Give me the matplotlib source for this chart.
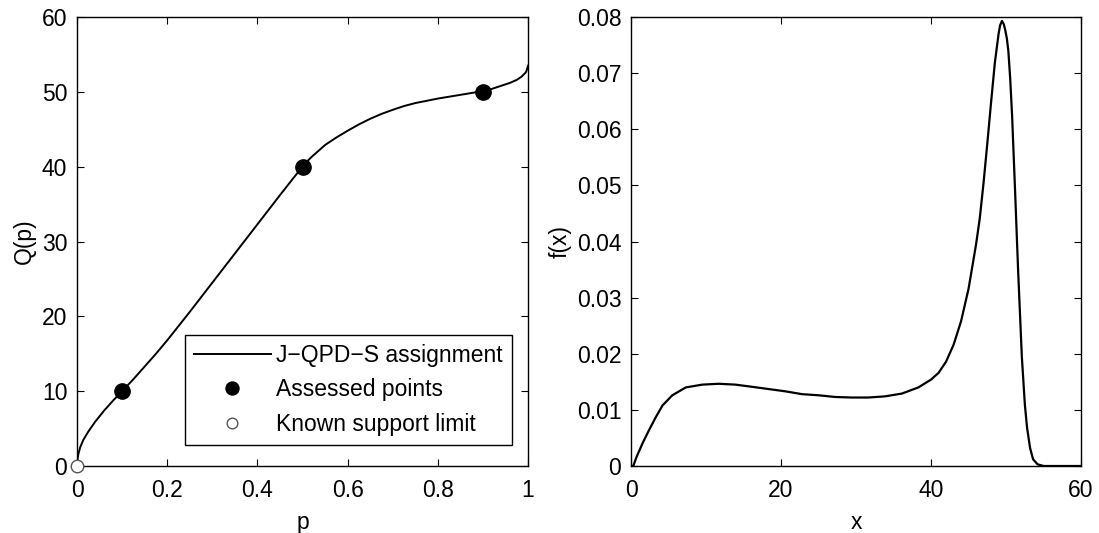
import matplotlib.pyplot as plt
import numpy as np

plt.rcParams['font.family'] = ['Liberation Sans', 'DejaVu Sans']
plt.rcParams['font.size'] = 16.5

# quantile curve Q(p)
p_vals = [0.0, 0.001, 0.003, 0.007, 0.014, 0.025, 0.04, 0.06, 0.08, 0.1,
          0.125, 0.15, 0.175, 0.2, 0.25, 0.3, 0.35, 0.4, 0.45, 0.48, 0.5, 0.51,
          0.52, 0.55, 0.575, 0.6, 0.625, 0.65, 0.675, 0.7, 0.725, 0.75, 0.775,
          0.8, 0.825, 0.85, 0.875, 0.9, 0.92, 0.94, 0.96, 0.975, 0.985, 0.99,
          0.995, 0.997, 1.0]
q_vals = [0.0, 0.9, 1.6, 2.5, 3.5, 4.6, 5.9, 7.4, 8.75, 10.0,
          11.6, 13.3, 15.0, 16.8, 20.6, 24.5, 28.4, 32.3, 36.2, 38.5, 40.0, 40.7,
          41.3, 42.9, 43.9, 44.8, 45.65, 46.4, 47.05, 47.6, 48.1, 48.5, 48.8,
          49.1, 49.35, 49.6, 49.85, 50.1, 50.4, 50.8, 51.2, 51.6, 52.0, 52.3,
          52.6, 52.9, 53.5]

# assessed points and support limit
p_assessed = [0.1, 0.5, 0.9]
q_assessed = [10, 40, 50]
p_support = [0.0]
q_support = [0.0]

# density f(x)
x_vals = [0.0, 0.3, 0.7, 1.55, 2.4, 3.3, 4.2, 5.5, 7.3, 9.5, 11.7, 13.9, 16.2,
          18.4, 20.6, 22.8, 25.0, 27.2, 29.4, 31.6, 33.8, 36.1, 38.3, 40.0,
          41.0, 42.0, 43.0, 44.0, 45.0, 46.0, 46.5, 47.0, 47.5, 48.0, 48.5,
          49.0, 49.2, 49.45, 49.7, 49.9, 50.1, 50.3, 50.55, 50.8, 51.2, 51.6,
          52.1, 52.5, 52.8, 53.2, 53.6, 54.2, 55.0, 57.0, 60.0]
f_vals = [0.0, 0.0, 0.0015, 0.0041, 0.0064, 0.0087, 0.0108, 0.0126, 0.0140,
          0.0145, 0.01465, 0.0145, 0.0141, 0.0137, 0.0133, 0.0128, 0.0126,
          0.0123, 0.0122, 0.0122, 0.0124, 0.0129, 0.0140, 0.0154,
          0.0166, 0.0186, 0.0216, 0.0258, 0.0316, 0.0395, 0.0442, 0.0505,
          0.0575, 0.0648, 0.0718, 0.0770, 0.0785, 0.0793, 0.0787, 0.0776,
          0.0762, 0.0740, 0.0690, 0.0625, 0.0490, 0.0350, 0.0195, 0.0110,
          0.0068, 0.0032, 0.0012, 0.0003, 0.0, 0.0, 0.0]

fig = plt.figure(figsize=(10.99, 5.33), dpi=100)
ax1 = fig.add_axes([0.0701, 0.1257, 0.4104, 0.8424])
ax2 = fig.add_axes([0.5742, 0.1257, 0.4095, 0.8424])

ax1.plot(p_vals, q_vals, color='black', lw=1.4, solid_joinstyle='round',
         label='J\u2212QPD\u2212S assignment')
ax1.plot(p_assessed, q_assessed, 'o', color='black', ms=11, label='Assessed points',
         clip_on=False, zorder=3)
ax1.plot(p_support, q_support, 'o', mfc='white', mec='#555555', mew=1.0, ms=9,
         label='Known support limit', clip_on=False, zorder=3)
ax1.set_xlim(0, 1)
ax1.set_ylim(0, 60)
ax1.set_xticks([0, 0.2, 0.4, 0.6, 0.8, 1])
ax1.set_xticklabels(['0', '0.2', '0.4', '0.6', '0.8', '1'])
ax1.set_yticks(range(0, 61, 10))
ax1.set_xlabel('p', labelpad=7)
ax1.set_ylabel('Q(p)')
leg = ax1.legend(loc='lower right', bbox_to_anchor=(0.965, 0.047), borderaxespad=0,
                 fancybox=False, edgecolor='black', framealpha=1, handlelength=3.35,
                 handletextpad=0.25, markerscale=0.85, labelspacing=0.5, borderpad=0.4)
leg.get_frame().set_linewidth(1.0)

ax2.plot(x_vals, f_vals, color='black', lw=1.6, solid_joinstyle='round')
ax2.set_xlim(0, 60)
ax2.set_ylim(0, 0.08)
ax2.set_xticks([0, 20, 40, 60])
ax2.set_yticks(np.arange(0, 0.081, 0.01))
ax2.set_yticklabels(['0', '0.01', '0.02', '0.03', '0.04', '0.05', '0.06', '0.07', '0.08'])
ax2.set_xlabel('x', labelpad=7)
ax2.set_ylabel('f(x)')

for ax in (ax1, ax2):
    ax.tick_params(direction='in', top=True, right=True, length=5, width=0.8)
    ax.tick_params(axis='x', pad=9)
    ax.tick_params(axis='y', pad=7)
    for s in ax.spines.values():
        s.set_linewidth(1.0)

fig.savefig('out.png', dpi=100)
